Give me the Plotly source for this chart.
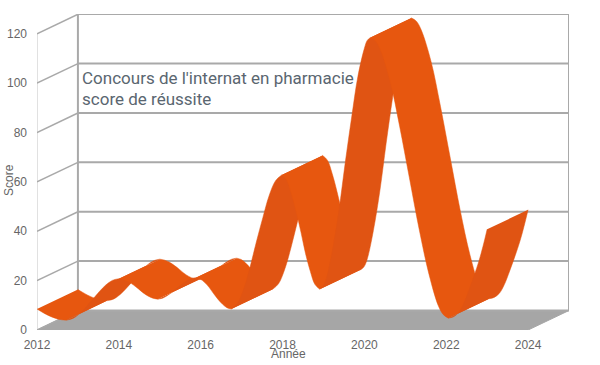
import plotly.graph_objects as go

# Points read along the front edge of the ribbon
years = [2012, 2012.12, 2012.24, 2012.36, 2012.48, 2012.6, 2012.72,
         2012.88, 2013.04, 2013.2, 2013.36, 2013.52, 2013.68, 2013.84, 2014,
         2014.12, 2014.24, 2014.36, 2014.48, 2014.59, 2014.71, 2014.83, 2014.95,
         2015.07, 2015.18, 2015.3, 2015.41, 2015.53, 2015.65, 2015.76, 2015.88,
         2015.99, 2016.1, 2016.21, 2016.31, 2016.42, 2016.53, 2016.64, 2016.75,
         2016.9, 2017.06, 2017.21, 2017.36, 2017.52, 2017.67, 2017.83, 2017.98,
         2018.1, 2018.21, 2018.33, 2018.45, 2018.56, 2018.68, 2018.79, 2018.91,
         2018.99, 2019.07, 2019.22, 2019.38, 2019.53, 2019.69, 2019.84, 2020, 2020.07, 2020.15,
         2020.27, 2020.39, 2020.63, 2020.86, 2021.1, 2021.34, 2021.58, 2021.81, 2021.93, 2022.05,
         2022.17, 2022.3, 2022.42, 2022.55, 2022.68, 2022.8, 2022.9, 2023]
scores = [8.5, 7.3, 6.2, 5.3, 4.6, 4.15, 4,
          4.7, 6.6, 9.3, 12.4, 15.5, 18.2, 20.1, 20.8,
          20.4, 19.5, 18.2, 16.65, 15.1, 13.8, 12.9, 12.5,
          12.9, 13.9, 15.25, 16.85, 18.45, 19.8, 20.8, 21.2,
          20.65, 19.2, 17.2, 14.85, 12.5, 10.5, 9.05, 8.5,
          10.8, 17, 25.7, 35.65, 45.6, 54.3, 60.5, 62.8,
          60.8, 55.6, 48.2, 39.65, 31.1, 23.7, 18.5, 16.5,
          17.7, 20.9, 32.4, 48.7, 67.5, 86.3, 102.6, 114.1, 117.3, 118.5,
          117.2, 113.6, 100.8, 82.6, 61.65, 40.7, 22.5, 9.7, 6.2, 4.8,
          5.3, 7, 10.5, 16, 22, 28, 34, 40.8]
y_ticks = [0, 20, 40, 60, 80, 100, 120]
x_ticks = [2012, 2014, 2016, 2018, 2020, 2022, 2024]
title_lines = ["Concours de l'internat en pharmacie :", "score de réussite"]
x_title = "Année"
y_title = "Score"

DEPTH_X = 1.0
DEPTH_Y = 7.9
X0, X1 = x_ticks[0], x_ticks[-1]
Y_TOP = y_ticks[-1]
GRID = "#a9a9a9"
TEXT = "#666666"
FALL = "#e7570f"
RISE = "#e05413"

fig = go.Figure()


def line(xs, ys, color=GRID, width=2):
    fig.add_trace(go.Scatter(x=xs, y=ys, mode="lines", hoverinfo="skip",
                             line=dict(color=color, width=width)))


# Floor
fig.add_trace(go.Scatter(x=[X0, X1, X1 + DEPTH_X, X0 + DEPTH_X, X0],
                         y=[0, 0, DEPTH_Y, DEPTH_Y, 0],
                         mode="lines", fill="toself", fillcolor="#a6a6a6",
                         line=dict(color="#a6a6a6", width=1), hoverinfo="skip"))
# Walls
line([X0, X0], [0, Y_TOP], "#c4c4c4", 1)
line([X0 + DEPTH_X] * 2, [DEPTH_Y, Y_TOP + DEPTH_Y], GRID, 2)
line([X1 + DEPTH_X] * 2, [DEPTH_Y, Y_TOP + DEPTH_Y], GRID, 2)
for v in y_ticks:
    top = v == Y_TOP
    line([X0 + DEPTH_X, X1 + DEPTH_X], [v + DEPTH_Y] * 2, GRID, 1.5 if top else 2)
    line([X0, X0 + DEPTH_X], [v, v + DEPTH_Y], GRID, 1.5)

# Title sits behind the ribbon
fig.add_trace(go.Scatter(x=[2013.1, 2013.1], y=[101.4, 92.9], mode="text",
                         text=title_lines, textposition="middle right",
                         textfont=dict(family="Roboto", size=17, color="#5a6670"),
                         hoverinfo="skip"))

# Ribbon: one piece for each monotonic stretch, painted left to right
breaks = [0]
for i in range(1, len(scores) - 1):
    if (scores[i] - scores[i - 1]) * (scores[i + 1] - scores[i]) < 0:
        breaks.append(i)
breaks.append(len(scores) - 1)
for a, b in zip(breaks, breaks[1:]):
    xs = years[a:b + 1]
    ys = scores[a:b + 1]
    color = RISE if ys[-1] > ys[0] else FALL
    fig.add_trace(go.Scatter(x=xs, y=ys, mode="lines",
                             line=dict(shape="spline", smoothing=1, color=color, width=0.5),
                             name="Score"))
    fig.add_trace(go.Scatter(x=[x + DEPTH_X for x in xs], y=[y + DEPTH_Y for y in ys],
                             mode="lines", fill="tonexty", fillcolor=color,
                             line=dict(shape="spline", smoothing=1, color=color, width=0.5),
                             hoverinfo="skip"))

PLOT_W = 13 * 40.95
PLOT_H = 128 * 2.475
L, T = 37, 330.5 - PLOT_H
fig.update_layout(
    template=None,
    width=600, height=365, autosize=False, showlegend=False,
    paper_bgcolor="white", plot_bgcolor="white",
    margin=dict(l=L, r=600 - L - PLOT_W, t=T, b=365 - 330.5, pad=0),
    font=dict(family="Liberation Sans", size=12, color=TEXT),
    xaxis=dict(range=[X0, X1 + DEPTH_X], tickvals=x_ticks, ticktext=[str(t) for t in x_ticks],
               showgrid=False, zeroline=False, showline=False, ticks="", automargin=False,
               ticklabelstandoff=6),
    yaxis=dict(range=[0, 128], tickvals=y_ticks, showgrid=False, zeroline=False,
               showline=False, ticks="", automargin=False, ticklabelstandoff=9),
    annotations=[
        dict(text=x_title, x=2018.15, xref="x", y=-24 / PLOT_H, yref="paper",
             showarrow=False, xanchor="center", yanchor="middle", font=dict(size=12, color=TEXT)),
        dict(text=y_title, x=-28 / PLOT_W, xref="paper", y=0.475, yref="paper", textangle=-90,
             showarrow=False, xanchor="center", yanchor="middle", font=dict(size=12, color=TEXT)),
    ],
)
fig.write_html("out.html", config=dict(displayModeBar=False),
               post_script="document.body.style.margin='0';")
